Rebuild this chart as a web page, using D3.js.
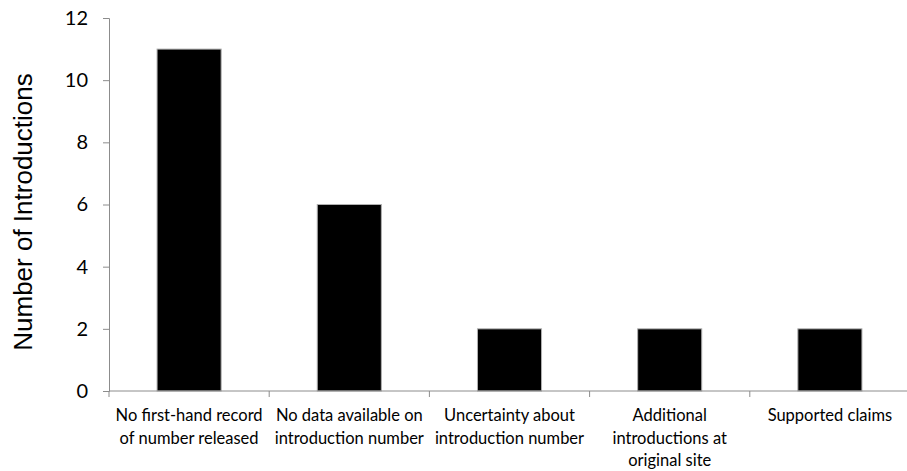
<!DOCTYPE html>
<html><head><meta charset="utf-8">
<script src="https://cdn.jsdelivr.net/npm/d3@7"></script>
<style>body{margin:0;background:#fff}svg{display:block}</style>
</head><body>
<svg id="c" width="907" height="471"></svg>
<script>
const categories = [
  ["No first-hand record", "of number released"],
  ["No data available on", "introduction number"],
  ["Uncertainty about", "introduction number"],
  ["Additional", "introductions at", "original site"],
  ["Supported claims"]
];
const values = [11, 6, 2, 2, 2];
const yTicks = [0, 2, 4, 6, 8, 10, 12];
const yTitle = "Number of Introductions";

(function() {
const svg = d3.select("#c");
const mLeft = 109, mRight = 910, mTop = 18, mBottom = 391;
const keys = categories.map((d, i) => i);
const x = d3.scaleBand().domain(keys).range([mLeft, mRight]).paddingInner(0.6).paddingOuter(0.3);
const xb = d3.scaleBand().domain(keys).range([mLeft, mRight]);
const y = d3.scaleLinear().domain([0, 12]).range([mBottom, mTop]);
const axisColor = "#8c8c8c";
const labelFont = "Lato, 'Open Sans', sans-serif";

svg.selectAll("rect.bar").data(values).enter().append("rect")
  .attr("x", (d, i) => x(i)).attr("width", x.bandwidth())
  .attr("y", d => y(d)).attr("height", d => y(0) - y(d))
  .attr("fill", "#000").attr("stroke", "#b0b0b0").attr("stroke-width", 1);

const ya = svg.append("g").attr("transform", `translate(${mLeft},0)`)
  .call(d3.axisLeft(y).tickValues(yTicks).tickSize(6).tickPadding(15));
ya.select(".domain").attr("stroke", axisColor);
ya.selectAll(".tick line").attr("stroke", axisColor);
ya.selectAll(".tick text").attr("font-family", labelFont).attr("font-size", 20).attr("fill", "#000");

const xa = svg.append("g").attr("transform", `translate(0,${mBottom})`);
xa.append("line").attr("x1", mLeft).attr("x2", mRight).attr("stroke", axisColor);
const bounds = keys.map(k => xb(k)).concat([mRight]);
xa.selectAll("line.t").data(bounds).enter().append("line")
  .attr("x1", d => d).attr("x2", d => d).attr("y1", 0).attr("y2", 6).attr("stroke", axisColor);

const lbl = svg.selectAll("text.cat").data(categories).enter().append("text")
  .attr("class", "cat")
  .attr("text-anchor", "middle").attr("font-family", labelFont).attr("font-size", 16.5).attr("fill", "#000");
lbl.each(function(lines, i) {
  const t = d3.select(this);
  lines.forEach((ln, j) => {
    t.append("tspan").attr("x", x(i) + x.bandwidth() / 2).attr("y", 421 + j * 22.5).text(ln);
  });
});

svg.append("text")
  .attr("transform", `translate(32,${(72 + 352) / 2}) rotate(-90)`)
  .attr("text-anchor", "middle")
  .attr("font-family", "'Liberation Sans', Arial, sans-serif").attr("font-size", 26).attr("fill", "#000")
  .text(yTitle);
})();
</script>
</body></html>
